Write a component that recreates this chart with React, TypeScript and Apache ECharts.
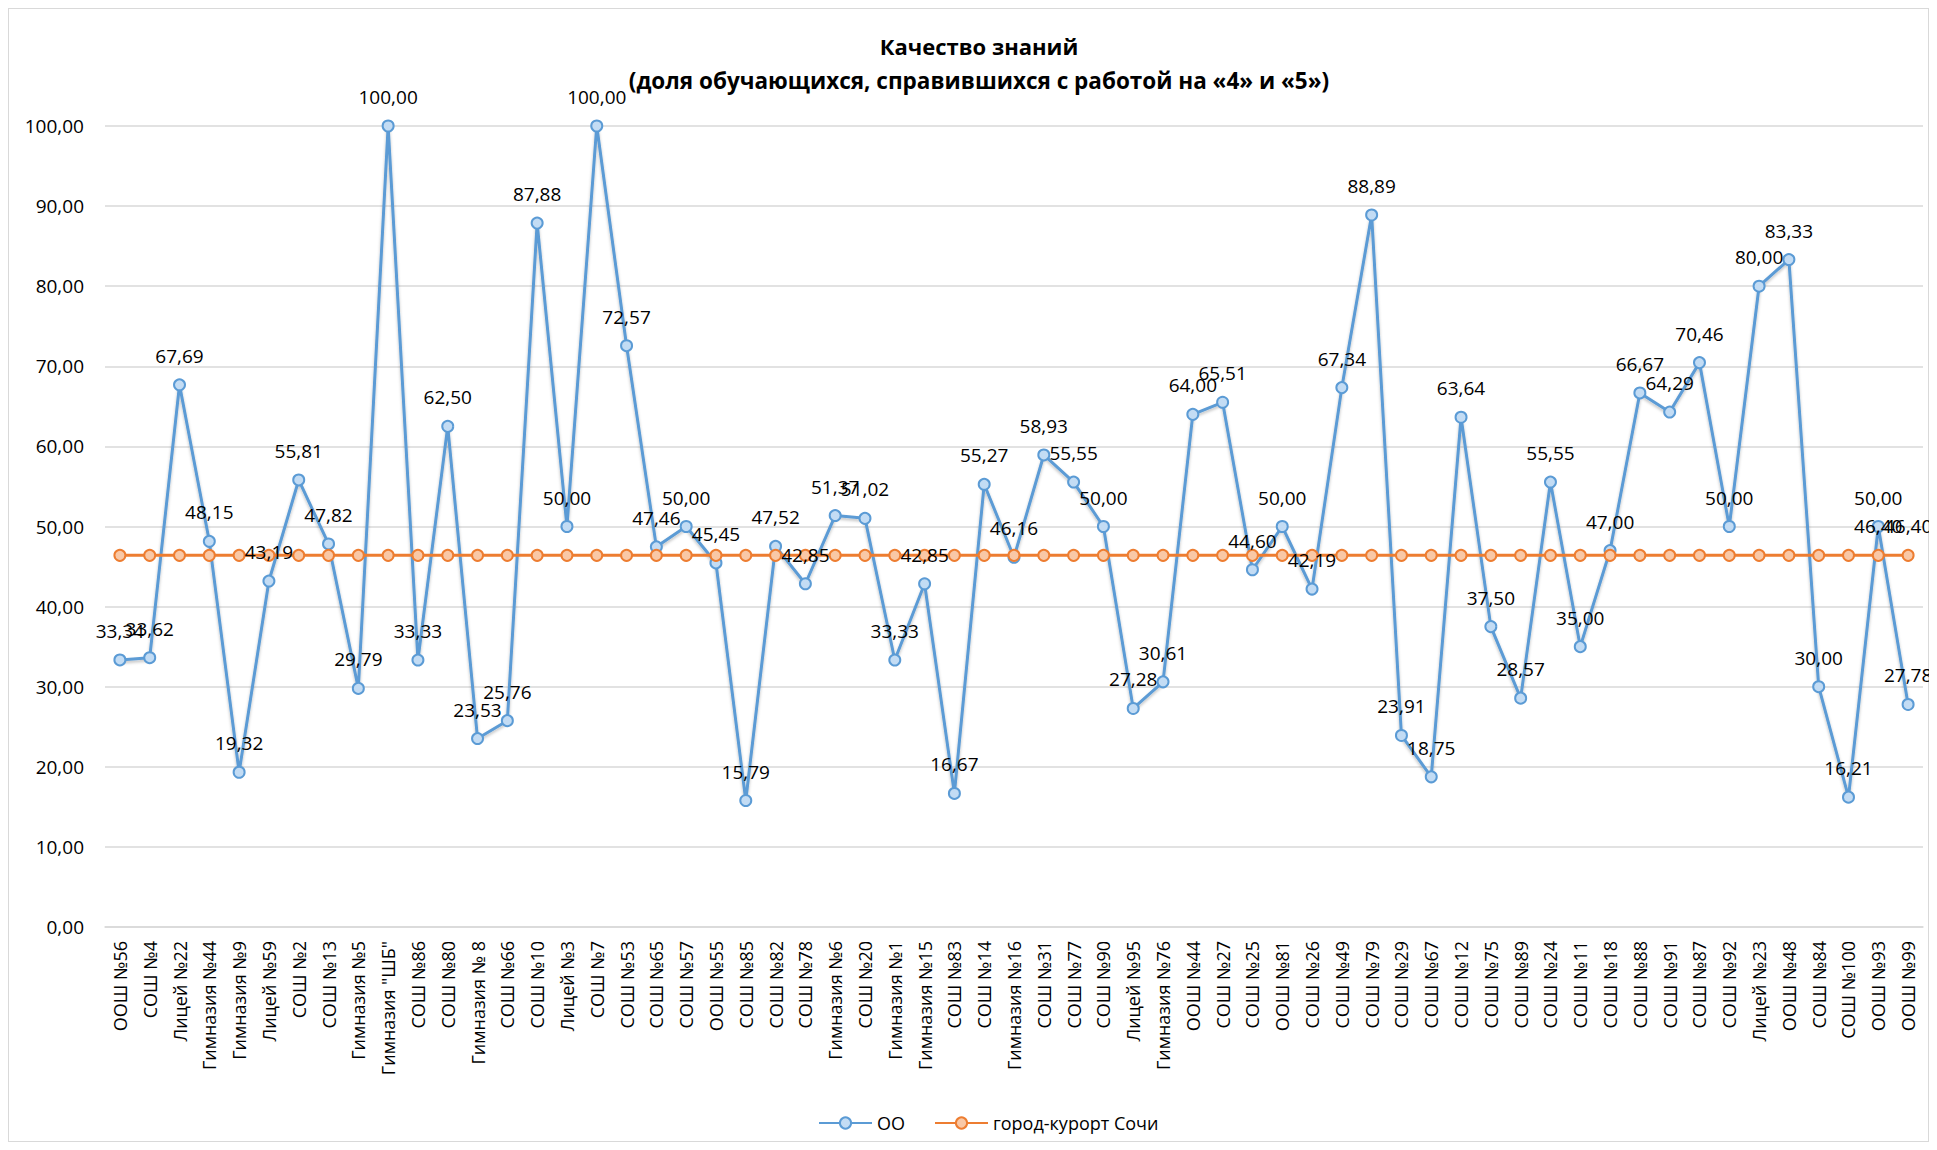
import React, { useEffect, useRef } from 'react';
import * as echarts from 'echarts';

const categories: string[] = [
  'ООШ №56', 'СОШ №4', 'Лицей №22', 'Гимназия №44', 'Гимназия №9', 'Лицей №59', 'СОШ №2', 'СОШ №13',
  'Гимназия №5', 'Гимназия "ШБ"', 'СОШ №86', 'СОШ №80', 'Гимназия № 8', 'СОШ №66', 'СОШ №10', 'Лицей №3',
  'СОШ №7', 'СОШ №53', 'СОШ №65', 'СОШ №57', 'ООШ №55', 'СОШ №85', 'СОШ №82', 'СОШ №78',
  'Гимназия №6', 'СОШ №20', 'Гимназия №1', 'Гимназия №15', 'СОШ №83', 'СОШ №14', 'Гимназия №16', 'СОШ №31',
  'СОШ №77', 'СОШ №90', 'Лицей №95', 'Гимназия №76', 'ООШ №44', 'СОШ №27', 'СОШ №25', 'ООШ №81',
  'СОШ №26', 'СОШ №49', 'СОШ №79', 'СОШ №29', 'СОШ №67', 'СОШ №12', 'СОШ №75', 'СОШ №89',
  'СОШ №24', 'СОШ №11', 'СОШ №18', 'СОШ №88', 'СОШ №91', 'СОШ №87', 'СОШ №92', 'Лицей №23',
  'ООШ №48', 'СОШ №84', 'СОШ №100', 'ООШ №93', 'ООШ №99',
];

const ooValues: number[] = [
  33.34, 33.62, 67.69, 48.15, 19.32, 43.19, 55.81, 47.82,
  29.79, 100.0, 33.33, 62.5, 23.53, 25.76, 87.88, 50.0,
  100.0, 72.57, 47.46, 50.0, 45.45, 15.79, 47.52, 42.85,
  51.37, 51.02, 33.33, 42.85, 16.67, 55.27, 46.16, 58.93,
  55.55, 50.0, 27.28, 30.61, 64.0, 65.51, 44.6, 50.0,
  42.19, 67.34, 88.89, 23.91, 18.75, 63.64, 37.5, 28.57,
  55.55, 35.0, 47.0, 66.67, 64.29, 70.46, 50.0, 80.0,
  83.33, 30.0, 16.21, 50.0, 27.78,
];

const cityValues: number[] = [
  46.4, 46.4, 46.4, 46.4, 46.4, 46.4, 46.4, 46.4,
  46.4, 46.4, 46.4, 46.4, 46.4, 46.4, 46.4, 46.4,
  46.4, 46.4, 46.4, 46.4, 46.4, 46.4, 46.4, 46.4,
  46.4, 46.4, 46.4, 46.4, 46.4, 46.4, 46.4, 46.4,
  46.4, 46.4, 46.4, 46.4, 46.4, 46.4, 46.4, 46.4,
  46.4, 46.4, 46.4, 46.4, 46.4, 46.4, 46.4, 46.4,
  46.4, 46.4, 46.4, 46.4, 46.4, 46.4, 46.4, 46.4,
  46.4, 46.4, 46.4, 46.4, 46.4,
];

// indices of the city series whose value labels are shown
const cityLabeledPoints: number[] = [59, 60];

const seriesNames = ['ОО', 'город-курорт Сочи'];
const titleLines = ['Качество знаний', '(доля обучающихся, справившихся с работой на «4» и «5»)'];

const FONT = '"Open Sans", "Noto Sans", sans-serif';
const fmt = (v: number) => Number(v).toFixed(2).replace('.', ',');

export default function App() {
  const ref = useRef<HTMLDivElement>(null);

  useEffect(() => {
    document.body.style.overflow = 'hidden';
    if (!ref.current) return;
    const chart = echarts.init(ref.current, undefined, { renderer: 'svg' });

    const labelBase = {
      show: true,
      position: 'top' as const,
      distance: 14,
      fontFamily: FONT,
      fontSize: 19,
      color: '#000',
      formatter: (p: any) => fmt(p.value),
    };

    // invisible carrier series: draws only value labels, above all lines and markers
    const labelCarrier = (name: string, data: any[]) => ({
      name,
      type: 'line',
      data,
      symbol: 'circle',
      symbolSize: 11,
      silent: true,
      lineStyle: { width: 0, opacity: 0 },
      itemStyle: { color: 'transparent', borderWidth: 0 },
      label: labelBase,
      z: 5,
    });

    chart.setOption({
      animation: false,
      graphic: [
        {
          type: 'text',
          x: 970,
          y: 37,
          style: {
            text: titleLines[0],
            fontFamily: FONT,
            fontSize: 22,
            fontWeight: 'bold',
            fill: '#000',
            textAlign: 'center',
            textVerticalAlign: 'middle',
          },
        },
        {
          type: 'text',
          x: 970,
          y: 71,
          style: {
            text: titleLines[1],
            fontFamily: FONT,
            fontSize: 22.5,
            fontWeight: 'bold',
            fill: '#000',
            textAlign: 'center',
            textVerticalAlign: 'middle',
          },
        },
      ],
      legend: {
        data: seriesNames,
        left: 804,
        top: 1100,
        itemWidth: 53,
        itemHeight: 14,
        itemGap: 29,
        textStyle: { fontFamily: FONT, fontSize: 18, color: '#000' },
      },
      grid: { left: 96, right: 14, top: 117, bottom: 214, containLabel: false },
      xAxis: {
        type: 'category',
        data: categories,
        boundaryGap: true,
        axisTick: { show: false },
        axisLine: { show: true, lineStyle: { color: '#D9D9D9', width: 1.5 } },
        axisLabel: {
          rotate: 90,
          interval: 0,
          margin: 14,
          fontFamily: FONT,
          fontSize: 18,
          color: '#000',
        },
      },
      yAxis: {
        type: 'value',
        min: 0,
        max: 100,
        interval: 10,
        axisLine: { show: false },
        axisTick: { show: false },
        axisLabel: {
          margin: 21,
          fontFamily: FONT,
          fontSize: 19,
          color: '#000',
          formatter: (v: number) => fmt(v),
        },
        splitLine: { lineStyle: { color: '#D9D9D9', width: 1.5 } },
      },
      series: [
        {
          name: seriesNames[0],
          type: 'line',
          data: ooValues,
          symbol: 'circle',
          symbolSize: 11,
          lineStyle: {
            color: '#5B9BD5',
            width: 3,
            shadowColor: 'rgba(0,0,0,0.25)',
            shadowBlur: 3,
            shadowOffsetY: 2,
          },
          itemStyle: { color: '#C3DCF4', borderColor: '#5B9BD5', borderWidth: 2 },
          label: { show: false },
          z: 2,
        },
        {
          name: seriesNames[1],
          type: 'line',
          data: cityValues,
          symbol: 'circle',
          symbolSize: 11,
          lineStyle: { color: '#ED7D31', width: 3 },
          itemStyle: { color: '#F9C8A6', borderColor: '#ED7D31', borderWidth: 2 },
          label: { show: false },
          z: 3,
        },
        labelCarrier('labels-oo', ooValues),
        labelCarrier(
          'labels-city',
          cityValues.map((v, i) => (cityLabeledPoints.indexOf(i) >= 0 ? v : '-'))
        ),
      ],
    });

    return () => chart.dispose();
  }, []);

  return (
    <div
      style={{
        width: 1921,
        height: 1134,
        border: '1px solid #D9D9D9',
        boxSizing: 'border-box',
        position: 'relative',
        background: '#fff',
      }}
    >
      <div ref={ref} style={{ position: 'absolute', left: 0, top: 0, width: 1928, height: 1132 }} />
    </div>
  );
}
